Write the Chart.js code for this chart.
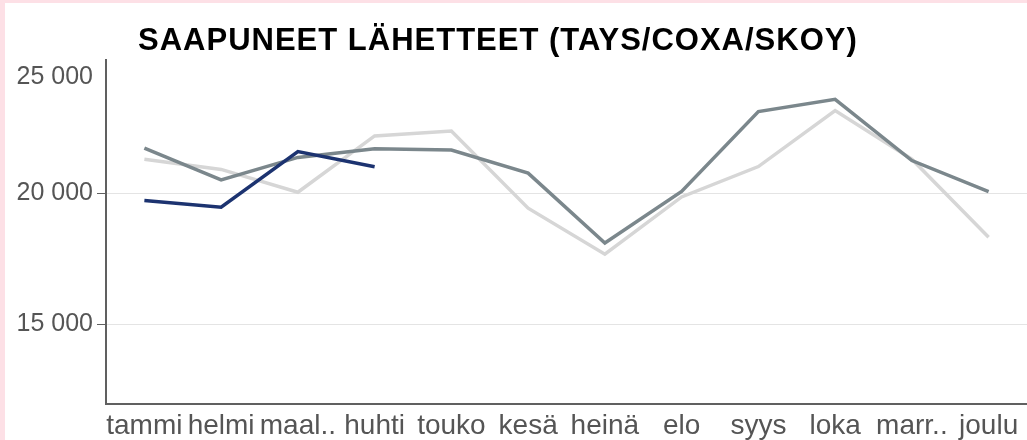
<!DOCTYPE html>
<html>
<head>
<meta charset="utf-8">
<script src="https://cdn.jsdelivr.net/npm/chart.js@4/dist/chart.umd.min.js"></script>
<style>
  html, body { margin: 0; padding: 0; background: #fde0e6; }
  #kehys { position: absolute; left: 5px; top: 3px; width: 1022px; height: 437px; background: #fff; }
</style>
</head>
<body>
<div id="kehys"><canvas id="lahetteet"></canvas></div>
<script>
// * data
const otsikko = "SAAPUNEET LÄHETTEET (TAYS/COXA/SKOY)";
const kuukaudet = ["tammi", "helmi", "maal..", "huhti", "touko", "kesä", "heinä", "elo", "syys", "loka", "marr..", "joulu"];
const vuosiNyt = [19720, 19470, 21590, 21010];
const vuosiEdel = [21720, 20510, 21370, 21700, 21650, 20770, 18100, 20070, 23120, 23590, 21250, 20060];
const vuosiToissa = [21300, 20910, 20040, 22190, 22380, 19430, 17670, 19860, 21020, 23160, 21300, 18320];
const yTicks = [15000, 20000, 25000];

const fontti = "'Liberation Sans', Arial, sans-serif";
const muotoile = (v) => String(v).replace(/\B(?=(\d{3})+(?!\d))/g, " ");

// ? otsikko piirretään itse
const otsikkoPlugin = {
  id: "otsikko",
  afterDraw(chart) {
    const c = chart.ctx;
    c.save();
    c.font = "bold 31px " + fontti;
    c.letterSpacing = "1px";
    c.fillStyle = "#000";
    c.textBaseline = "alphabetic";
    c.fillText(otsikko, 133, 47);
    c.restore();
  },
};

const ctx = document.getElementById("lahetteet").getContext("2d");
new Chart(ctx, {
  type: "line",
  data: {
    labels: kuukaudet,
    datasets: [
      { data: vuosiNyt, borderColor: "#1c3370", borderWidth: 3.5, order: 1 },
      { data: vuosiEdel, borderColor: "#7b878c", borderWidth: 3.5, order: 2 },
      { data: vuosiToissa, borderColor: "#d6d6d6", borderWidth: 3.5, order: 3 },
    ],
  },
  options: {
    responsive: true,
    maintainAspectRatio: false,
    animation: false,
    elements: { point: { radius: 0 }, line: { tension: 0 } },
    layout: { padding: { top: 57, left: 0, right: 0, bottom: 0 } },
    plugins: { legend: { display: false }, tooltip: { enabled: false } },
    scales: {
      x: {
        offset: true,
        grid: { display: false, drawTicks: false },
        border: { color: "#606060", width: 2 },
        ticks: { color: "#555", font: { family: fontti, size: 28 }, padding: 5, maxRotation: 0, autoSkip: false },
        afterFit: (s) => { s.height = 36; },
      },
      y: {
        min: 11950,
        max: 25090,
        afterBuildTicks: (s) => { s.ticks = yTicks.map((v) => ({ value: v })); },
        grid: {
          color: (c) => (c.tick && c.tick.value === 25000 ? "transparent" : "#e4e4e4"),
          tickColor: (c) => (c.tick && c.tick.value === 25000 ? "transparent" : "#606060"),
          tickLength: 9,
        },
        border: { color: "#606060", width: 2 },
        ticks: {
          color: "#555",
          padding: 4,
          font: { family: fontti, size: 25 },
          callback: (v) => (v === 25000 ? ["", muotoile(v)] : muotoile(v)),
        },
        afterFit: (s) => { s.width = 101; },
      },
    },
  },
  plugins: [otsikkoPlugin],
});
</script>
</body>
</html>
